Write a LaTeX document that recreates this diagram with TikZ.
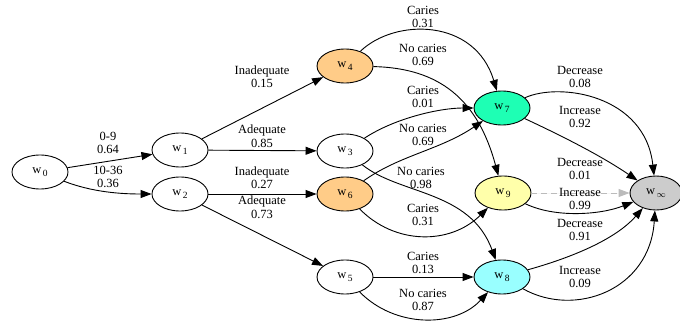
\documentclass[tikz,border=0pt]{standalone}
\usepackage{fontspec}
\setmainfont{Liberation Serif}
\usetikzlibrary{arrows.meta,shapes.geometric}
\definecolor{corange}{HTML}{FFCC88}
\definecolor{cgreen}{HTML}{1EFFB4}
\definecolor{cyellow}{HTML}{FFFFAA}
\definecolor{ccyan}{HTML}{99FFFF}
\definecolor{cgray}{HTML}{CCCCCC}
\definecolor{cdash}{HTML}{BBBBBB}
\newcommand{\wsub}[1]{w\hspace{1.5pt}\raisebox{-3.5pt}{\fontsize{9.5}{9.5}\selectfont #1}}
\begin{document}
\begin{tikzpicture}[x=1pt,y=-1pt,
  wnode/.style={draw, ellipse, minimum width=56pt, minimum height=34pt, inner sep=0pt, line width=0.9pt, font=\fontsize{12.5}{14}\selectfont},
  lab/.style={align=center, font=\fontsize{12.5}{13.5}\selectfont, inner sep=0pt},
  conn/.style={-{Triangle[length=11pt,width=8pt]}, line width=0.9pt},
  dconn/.style={-{Triangle[length=11pt,width=8pt]}, line width=0.9pt, draw=cdash, fill=cdash, dash pattern=on 6pt off 4pt},
]
\useasboundingbox (0,0) rectangle (680,324);
% nodes
\node[wnode] (w0) at (40,172) {\wsub{0}};
\node[wnode] (w1) at (180,150) {\wsub{1}};
\node[wnode] (w2) at (180,194) {\wsub{2}};
\node[wnode, fill=corange] (w4) at (345,66) {\wsub{4}};
\node[wnode] (w3) at (345,151) {\wsub{3}};
\node[wnode, fill=corange] (w6) at (345,194) {\wsub{6}};
\node[wnode] (w5) at (345,277) {\wsub{5}};
\node[wnode, fill=cgreen] (w7) at (502,108) {\wsub{7}};
\node[wnode, fill=cyellow] (w9) at (503,193) {\wsub{9}};
\node[wnode, fill=ccyan] (w8) at (502,277) {\wsub{8}};
\node[wnode, fill=cgray, minimum width=52pt] (winf) at (656,193) {\wsub{\ensuremath{\infty}}};
% edges
\draw[conn] (w0) -- (w1);
\draw[conn] (w0) .. controls (92,192) and (120,194) .. (w2);
\draw[conn] (w1) -- (w4);
\draw[conn] (w1) -- (w3);
\draw[conn] (w2) -- (w6);
\draw[conn] (w2) -- (w5);
\draw[conn] (w4) .. controls (395,18) and (475,18) .. (w7);
\draw[conn] (w4) .. controls (440,68) and (478,100) .. (w9);
\draw[conn] (w3) .. controls (395,118) and (440,108) .. (w7);
\draw[conn] (w6) .. controls (400,155) and (440,150) .. (w7);
\draw[conn] (w3) .. controls (400,195) and (470,190) .. (w8);
\draw[conn] (w6) .. controls (395,245) and (450,245) .. (w9);
\draw[conn] (w5) -- (w8);
\draw[conn] (w5) .. controls (395,328) and (455,328) .. (w8);
\draw[conn] (w7) .. controls (560,82) and (645,95) .. (winf);
\draw[conn] (w7) .. controls (560,135) and (600,155) .. (winf);
\draw[dconn] (w9) -- (winf);
\draw[conn] (w9) .. controls (555,218) and (600,215) .. (winf);
\draw[conn] (w8) .. controls (570,258) and (615,240) .. (winf);
\draw[conn] (w8) .. controls (575,318) and (650,290) .. (winf);
% labels
\node[lab] (l01) at (108,143) {0-9\\0.64};
\node[lab] (l02) at (108,177) {10-36\\0.36};
\node[lab] (l14) at (262,77) {Inadequate\\0.15};
\node[lab] (l13) at (262,136) {Adequate\\0.85};
\node[lab] (l26) at (262,178) {Inadequate\\0.27};
\node[lab] (l25) at (262,207) {Adequate\\0.73};
\node[lab] (l47) at (423,17) {Caries\\0.31};
\node[lab] (l49) at (423,55) {No caries\\0.69};
\node[lab] (l37) at (423,97) {Caries\\0.01};
\node[lab] (l67) at (423,135) {No caries\\0.69};
\node[lab] (l38) at (421,178) {No caries\\0.98};
\node[lab] (l69) at (423,215) {Caries\\0.31};
\node[lab] (l58a) at (423,263) {Caries\\0.13};
\node[lab] (l58b) at (423,300) {No caries\\0.87};
\node[lab] (l7a) at (580,77) {Decrease\\0.08};
\node[lab] (l7b) at (580,117) {Increase\\0.92};
\node[lab] (l9a) at (580,169) {Decrease\\0.01};
\node[lab] (l9b) at (580,199) {Increase\\0.99};
\node[lab] (l8a) at (580,230) {Decrease\\0.91};
\node[lab] (l8b) at (580,277) {Increase\\0.09};
\end{tikzpicture}
\end{document}
